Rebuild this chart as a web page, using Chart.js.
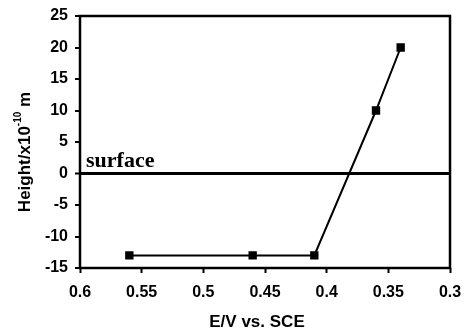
<!DOCTYPE html>
<html>
<head>
<meta charset="utf-8">
<script src="https://cdn.jsdelivr.net/npm/chart.js@4"></script>
<style>
  html, body { margin: 0; padding: 0; background: #fff; }
  #wrap { width: 464px; height: 331px; }
</style>
</head>
<body>
<div id="wrap"><canvas id="chart"></canvas></div>
<script>
const potentials = [0.56, 0.46, 0.41, 0.36, 0.34];
const heights = [-13, -13, -13, 10, 20];
const xTickValues = [0.6, 0.55, 0.5, 0.45, 0.4, 0.35, 0.3];
const yTickValues = [-15, -10, -5, 0, 5, 10, 15, 20, 25];
const surfaceLevel = 0;
const surfaceLabel = 'surface';
const xTitle = 'E/V vs. SCE';
const yTitle = ['Height/x10', '-10', ' m'];

const tickFont = { family: 'Liberation Sans, Arial, sans-serif', size: 16, weight: 'bold' };

const extras = {
  id: 'extras',
  afterDraw(chart) {
    const { ctx, chartArea: a, scales } = chart;
    ctx.save();
    // frame
    ctx.strokeStyle = '#000';
    ctx.lineWidth = 2.5;
    ctx.strokeRect(a.left, a.top, a.right - a.left, a.bottom - a.top);

    // surface label
    const y0 = scales.y.getPixelForValue(surfaceLevel);
    ctx.fillStyle = '#000';
    ctx.font = 'bold 22px "Liberation Serif", "Times New Roman", serif';
    ctx.textAlign = 'left';
    ctx.textBaseline = 'alphabetic';
    ctx.fillText(surfaceLabel, a.left + 6, y0 - 7);

    // x title
    ctx.font = 'bold 17px "Liberation Sans", Arial, sans-serif';
    ctx.textAlign = 'center';
    ctx.textBaseline = 'middle';
    ctx.fillText(xTitle, 257, 322);

    // y title with superscript
    ctx.translate(24, 152);
    ctx.rotate(-Math.PI / 2);
    const big = 'bold 17px "Liberation Sans", Arial, sans-serif';
    const small = 'bold 10px "Liberation Sans", Arial, sans-serif';
    ctx.font = big;
    const w1 = ctx.measureText(yTitle[0]).width;
    const w3 = ctx.measureText(yTitle[2]).width;
    ctx.font = small;
    const w2 = ctx.measureText(yTitle[1]).width;
    let x = -(w1 + w2 + w3) / 2;
    ctx.textAlign = 'left';
    ctx.textBaseline = 'alphabetic';
    ctx.font = big;
    ctx.fillText(yTitle[0], x, 6);
    x += w1;
    ctx.font = small;
    ctx.fillText(yTitle[1], x, -3);
    x += w2;
    ctx.font = big;
    ctx.fillText(yTitle[2], x, 6);
    ctx.restore();
  }
};

new Chart(document.getElementById('chart'), {
  type: 'scatter',
  data: {
    datasets: [{
      data: potentials.map((p, i) => ({ x: p, y: heights[i] })),
      showLine: true,
      borderColor: '#000',
      backgroundColor: '#000',
      borderWidth: 2,
      pointStyle: 'rect',
      pointRadius: 4.5,
      pointHoverRadius: 4.5,
    }]
  },
  options: {
    responsive: true,
    maintainAspectRatio: false,
    animation: false,
    layout: { padding: { left: 0, top: 16, right: 14, bottom: 0 } },
    plugins: { legend: { display: false }, tooltip: { enabled: false } },
    scales: {
      x: {
        type: 'linear',
        reverse: true,
        min: 0.3,
        max: 0.6,
        afterBuildTicks: s => { s.ticks = xTickValues.map(v => ({ value: v })); },
        afterFit: s => { s.height = 63; s.paddingLeft = 0; s.paddingRight = 0; },
        border: { display: false },
        grid: { drawOnChartArea: false, tickColor: '#000', tickLength: 5, tickWidth: 2 },
        ticks: {
          color: '#000',
          font: tickFont,
          padding: 10,
          maxRotation: 0,
          autoSkip: false,
          callback: v => String(Number(v.toFixed(2)))
        }
      },
      y: {
        type: 'linear',
        min: -15,
        max: 25,
        afterBuildTicks: s => { s.ticks = yTickValues.map(v => ({ value: v })); },
        afterFit: s => { s.width = 80; s.paddingTop = 0; s.paddingBottom = 0; },
        border: { display: false },
        grid: {
          color: c => (c.tick && c.tick.value === surfaceLevel ? '#000' : 'rgba(0,0,0,0)'),
          lineWidth: c => (c.tick && c.tick.value === surfaceLevel ? 3 : 0),
          tickColor: '#000',
          tickLength: 5,
          tickWidth: 2
        },
        ticks: {
          color: '#000',
          font: tickFont,
          padding: 7,
          autoSkip: false,
          callback: v => String(v)
        }
      }
    }
  },
  plugins: [extras]
});
</script>
</body>
</html>
